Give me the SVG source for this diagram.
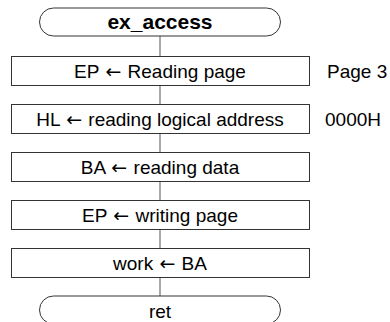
<svg xmlns="http://www.w3.org/2000/svg" width="390" height="322" viewBox="0 0 390 322">
<style>
.s{fill:#fff;stroke:#333;stroke-width:1}
.t{font-family:"Liberation Sans",Arial,sans-serif;font-size:19px;fill:#000}
.c{text-anchor:middle}
.b{font-weight:bold;font-size:21px}
.a{font-family:"DejaVu Sans","Liberation Sans",sans-serif;font-size:19px}
.ln{stroke:#555;stroke-width:1;fill:none}
</style>
<rect width="390" height="322" fill="#fff"/>
<g id="connectors">
<line class="ln" x1="160" y1="36" x2="160" y2="56.5"/>
<line class="ln" x1="160" y1="85.5" x2="160" y2="104.5"/>
<line class="ln" x1="160" y1="133.5" x2="160" y2="152.5"/>
<line class="ln" x1="160" y1="181.5" x2="160" y2="200.5"/>
<line class="ln" x1="160" y1="229.5" x2="160" y2="248.5"/>
<line class="ln" x1="160" y1="277.5" x2="160" y2="296"/>
</g>
<g id="start">
<rect class="s" x="39.5" y="8" width="241" height="28" rx="14" ry="14"/>
<text class="t c b" x="160" y="29">ex_access</text>
</g>
<g id="n1">
<rect class="s" x="11.5" y="56.5" width="298" height="29"/>
<text class="t c" x="160" y="77.5">EP <tspan class="a" dx="1">←</tspan><tspan dx="1"> Reading page</tspan></text>
<text class="t" x="327" y="77.5">Page 3</text>
</g>
<g id="n2">
<rect class="s" x="11.5" y="104.5" width="298" height="29"/>
<text class="t c" x="160" y="125.5">HL <tspan class="a" dx="1">←</tspan><tspan dx="1"> reading logical address</tspan></text>
<text class="t" x="325" y="125.5">0000H</text>
</g>
<g id="n3">
<rect class="s" x="11.5" y="152.5" width="298" height="29"/>
<text class="t c" x="160" y="173.5">BA <tspan class="a" dx="1">←</tspan><tspan dx="1"> reading data</tspan></text>
</g>
<g id="n4">
<rect class="s" x="11.5" y="200.5" width="298" height="29"/>
<text class="t c" x="160" y="221.5">EP <tspan class="a" dx="1">←</tspan><tspan dx="1"> writing page</tspan></text>
</g>
<g id="n5">
<rect class="s" x="11.5" y="248.5" width="298" height="29"/>
<text class="t c" x="160" y="269.5">work <tspan class="a" dx="1">←</tspan><tspan dx="1"> BA</tspan></text>
</g>
<g id="end">
<rect class="s" x="39.5" y="296" width="241" height="28" rx="14" ry="14"/>
<text class="t c" x="160" y="318">ret</text>
</g>
</svg>
